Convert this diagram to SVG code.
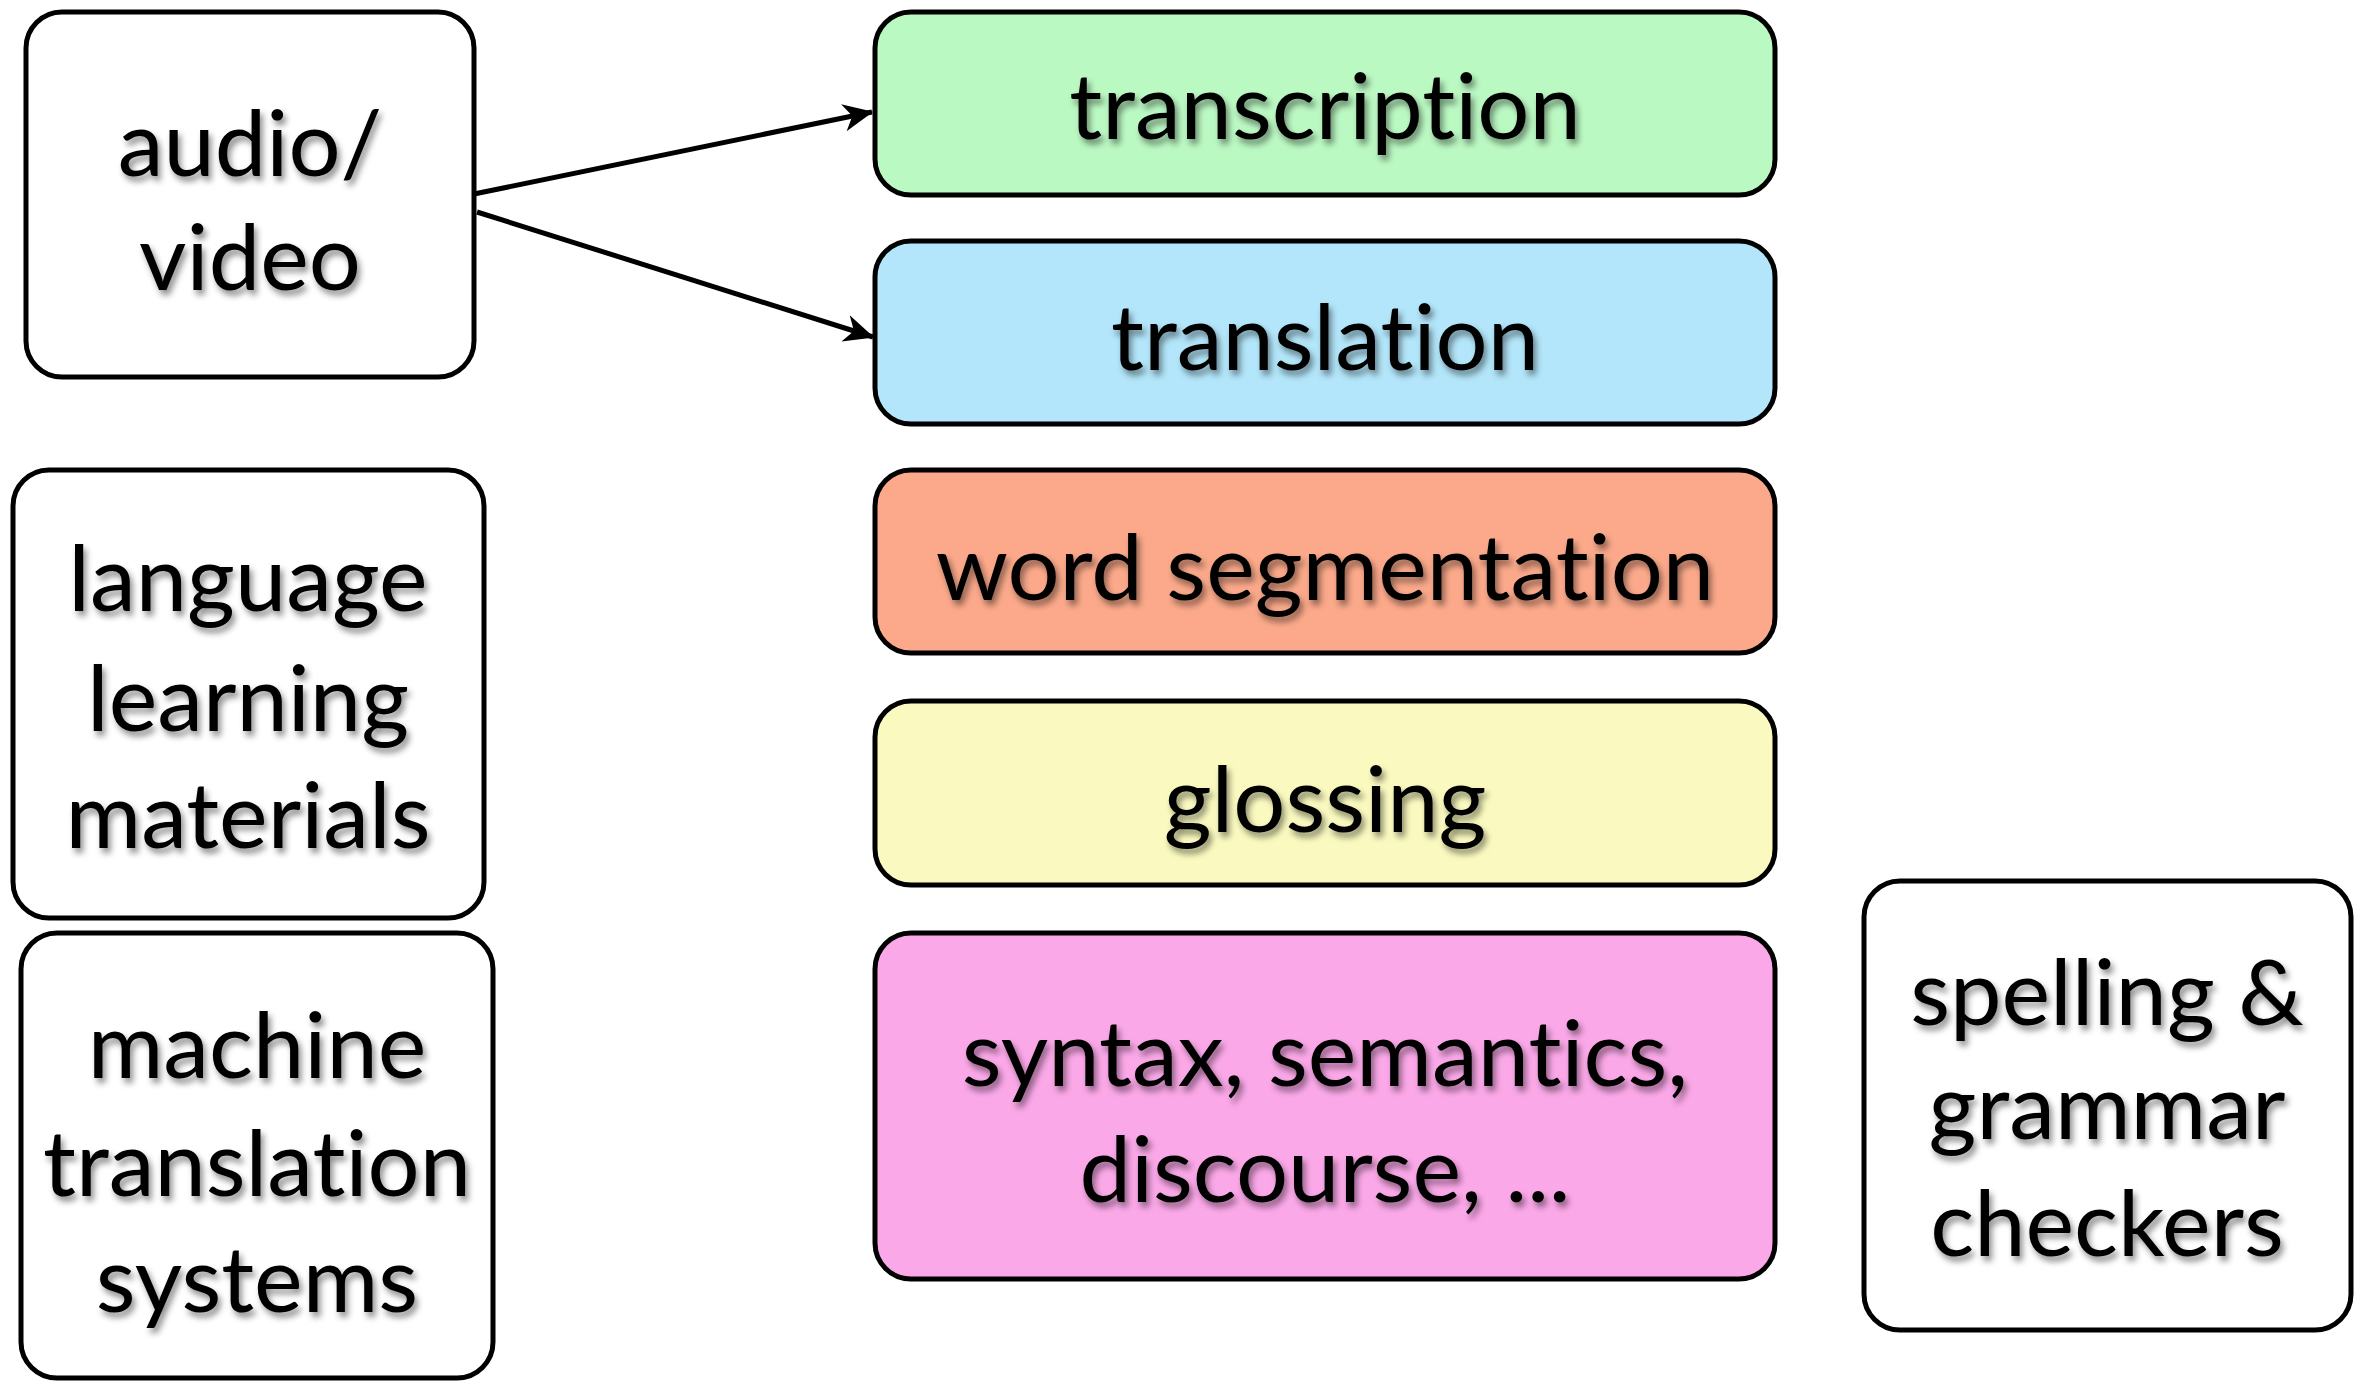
<svg xmlns="http://www.w3.org/2000/svg" width="2365" height="1382" viewBox="0 0 2365 1382">
  <defs>
    <filter id="txtShadow" x="-10%" y="-20%" width="120%" height="150%">
      <feDropShadow dx="3" dy="5" stdDeviation="3" flood-color="#000" flood-opacity="0.45"/>
    </filter>
    <marker id="arrow" viewBox="0 0 12 12" refX="11.5" refY="6" markerWidth="6" markerHeight="6" markerUnits="strokeWidth" orient="auto">
      <path d="M0,0.5 L12,6 L0,11.5 L3.5,6 Z" fill="#000"/>
    </marker>
  </defs>
  <style>
    .box { stroke: #000; stroke-width: 5; }
    .label { font-family: Lato, "Open Sans", "Liberation Sans", sans-serif; font-size: 92px; fill: #000; text-anchor: middle; font-variant-ligatures: none; font-feature-settings: "liga" 0; filter: url(#txtShadow); }
    .conn { stroke: #000; stroke-width: 5; fill: none; marker-end: url(#arrow); }
  </style>
  <rect width="2365" height="1382" fill="#fff"/>

  <g id="audio-video">
    <rect class="box" x="26" y="12" width="448" height="365" rx="36" fill="#fff"/>
    <text class="label" x="250" y="176">audio/</text>
    <text class="label" x="250" y="290">video</text>
  </g>

  <g id="language-learning">
    <rect class="box" x="13" y="470" width="471" height="448" rx="36" fill="#fff"/>
    <text class="label" x="248" y="611">language</text>
    <text class="label" x="248" y="731">learning</text>
    <text class="label" x="248" y="848">materials</text>
  </g>

  <g id="machine-translation">
    <rect class="box" x="21" y="933" width="472" height="445" rx="36" fill="#fff"/>
    <text class="label" x="257" y="1078">machine</text>
    <text class="label" x="257" y="1196">translation</text>
    <text class="label" x="257" y="1312">systems</text>
  </g>

  <g id="transcription">
    <rect class="box" x="875" y="12" width="900" height="183" rx="36" fill="#BBF9C3"/>
    <text class="label" x="1325" y="139">transcription</text>
  </g>

  <g id="translation">
    <rect class="box" x="875" y="241" width="900" height="183" rx="36" fill="#B3E6FA"/>
    <text class="label" x="1325" y="370">translation</text>
  </g>

  <g id="word-segmentation">
    <rect class="box" x="875" y="470" width="900" height="183" rx="36" fill="#FBA98A"/>
    <text class="label" x="1325" y="600">word segmentation</text>
  </g>

  <g id="glossing">
    <rect class="box" x="875" y="701" width="900" height="184" rx="36" fill="#FAFAC0"/>
    <text class="label" x="1325" y="832">glossing</text>
  </g>

  <g id="syntax">
    <rect class="box" x="875" y="933" width="900" height="346" rx="36" fill="#FBA8E8"/>
    <text class="label" x="1325" y="1086">syntax, semantics,</text>
    <text class="label" x="1325" y="1202">discourse, ...</text>
  </g>

  <g id="spelling-grammar">
    <rect class="box" x="1864" y="881" width="487" height="449" rx="36" fill="#fff"/>
    <text class="label" x="2107" y="1025">spelling &amp;</text>
    <text class="label" x="2107" y="1139">grammar</text>
    <text class="label" x="2107" y="1256">checkers</text>
  </g>

  <g id="connectors">
    <line class="conn" x1="474" y1="194" x2="872" y2="112"/>
    <line class="conn" x1="477" y1="212" x2="873" y2="337"/>
  </g>
</svg>
